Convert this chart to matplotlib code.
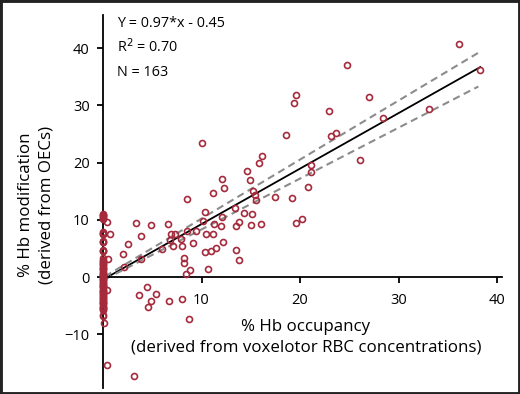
import numpy as np
import matplotlib
matplotlib.use('Agg')
import matplotlib.pyplot as plt
from matplotlib.patches import Rectangle

plt.rcParams['font.family'] = ['Open Sans', 'DejaVu Sans']

# puntos fuera de x = 0
occ_x = [36.1, 38.3, 24.8, 19.6, 19.35, 26.95, 22.9, 28.4, 33.1, 23.6,
         23.1, 26.1, 21.1, 21.1, 20.8, 19.2, 20.2, 19.6, 18.6, 16.1,
         15.8, 14.6, 14.9, 12.1, 12.3, 15.2, 15.4, 15.5, 17.5, 13.4,
         14.3, 15.1, 12.1, 12.0, 13.5, 13.8, 15.0, 16.0, 12.2, 13.5,
         13.8, 10.0, 8.5, 11.2, 10.4, 10.1, 11.3, 6.6, 4.9, 6.9,
         7.3, 8.5, 9.4, 10.5, 11.2, 7.9, 6.8, 7.1, 8.0, 9.1,
         6.0, 10.4, 11.0, 11.5, 8.2, 8.2, 8.8, 8.4, 10.7, 3.3,
         3.9, 2.5, 2.0, 3.9, 2.1, 0.4, 0.7, 0.5, 0.4, 3.7,
         4.5, 5.4, 4.9, 4.6, 6.7, 8.0, 8.7, 0.4, 3.1, 0.1]
mod_y = [40.8, 36.1, 37.1, 31.9, 30.4, 31.4, 29.1, 27.8, 29.3, 25.1,
         24.6, 20.5, 19.5, 18.3, 15.8, 13.8, 10.1, 9.4, 24.9, 21.2,
         19.9, 18.5, 16.9, 17.2, 15.5, 15.0, 14.4, 13.5, 14.0, 12.0,
         11.2, 11.0, 10.5, 9.0, 8.9, 9.7, 9.1, 9.3, 6.1, 4.7,
         3.0, 23.4, 13.6, 14.6, 11.4, 9.8, 9.3, 9.2, 9.1, 7.5,
         7.5, 8.0, 8.0, 7.6, 7.6, 6.7, 6.5, 5.4, 5.4, 6.0,
         4.9, 4.4, 4.6, 5.0, 3.4, 2.5, 1.3, 0.6, 1.4, 9.4,
         7.2, 5.7, 4.1, 3.1, 1.8, 9.6, 7.6, 3.2, -2.3, -3.1,
         -1.8, -3.0, -4.2, -5.3, -4.2, -3.9, -7.4, -15.4, -17.3, -8.1]

# puntos con ocupacion 0
cero_y = [11.0, 10.8, 10.6, 10.4, 10.2, 7.9, 7.7, 7.5, 6.3, 6.1,
          4.7, 4.5, 3.3, 3.0, 2.8, 2.6, 2.3, 2.1, 1.9, 1.6,
          1.4, 1.2, 0.9, 0.7, 0.5, 0.3, 0.1, 0.0, -0.2, -0.4,
          -0.6, -0.8, -1.0, -1.2, -1.4, -1.6, -1.8, -2.0, -2.2, -2.4,
          -2.6, -2.8, -3.0, -3.2, -3.4, -3.6, -3.8, -4.0, -4.2, -4.4,
          -4.6, -4.8, -5.0, -5.2, -5.4, -5.6, -5.8, -6.6, -6.8, 10.9,
          10.5, 7.6, 6.2, 4.6, 2.5, 1.5, 0.4, -0.5, -1.5, -2.5,
          -3.5, -4.5, -5.5]
cero_x = [0.0] * len(cero_y)

# recta de ajuste e intervalos
fit_x = [0.0, 38.3]
fit_y = [-0.45, 36.7]
ci_x = [0.2, 38.1]
ci_sup = [0.1, 39.2]
ci_inf = [-0.4, 33.3]

rojo = '#a52a3c'

fig = plt.figure(figsize=(5.2, 3.94), dpi=100)
ax = fig.add_axes([103/520, 1-388/394, (502-103)/520, (388-15)/394])

ax.plot(cero_x, cero_y, 'o', ms=4.3, mfc='none', mec=rojo, mew=1.2, clip_on=False, zorder=3)
ax.plot(occ_x, mod_y, 'o', ms=4.3, mfc='none', mec=rojo, mew=1.2, clip_on=False, zorder=3)
ax.plot(fit_x, fit_y, color='black', lw=1.3, zorder=2)
ax.plot(ci_x, ci_sup, color='#8c8c8c', lw=1.5, ls=(0, (3.5, 2.2)), zorder=2)
ax.plot(ci_x, ci_inf, color='#8c8c8c', lw=1.5, ls=(0, (3.5, 2.2)), zorder=2)

ax.set_xlim(0, 40.5)
ax.set_ylim(-19.4, 45.8)
ax.spines['top'].set_visible(False)
ax.spines['right'].set_visible(False)
ax.spines['bottom'].set_position(('data', 0))
ax.spines['left'].set_linewidth(1.3)
ax.spines['bottom'].set_linewidth(1.3)
ax.set_xticks([10, 20, 30, 40])
ax.set_yticks([-10, 0, 10, 20, 30, 40])
ax.tick_params(axis='x', length=4.5, width=1.3, pad=7, labelsize=10.5)
ax.tick_params(axis='y', length=4.5, width=1.3, pad=5, labelsize=10.5)

ax.text(20.6, -10.5, '% Hb occupancy\n(derived from voxelotor RBC concentrations)',
        ha='center', va='center', fontsize=12.2, linespacing=1.35)
fig.text(36/520, 1-205/394, '% Hb modification\n(derived from OECs)', rotation=90,
         ha='center', va='center', fontsize=12.2, linespacing=1.35)

ax.text(1.4, 44.4, 'Y = 0.97*x - 0.45', ha='left', va='center', fontsize=10.4)
ax.text(1.4, 40.2, 'R$^2$ = 0.70', ha='left', va='center', fontsize=10.4)
ax.text(1.4, 35.8, 'N = 163', ha='left', va='center', fontsize=10.4)

fig.patches.append(Rectangle((0, 0), 1, 1, transform=fig.transFigure, fill=False,
                             edgecolor='#222222', lw=3.5))

fig.savefig('out.png', dpi=100)
